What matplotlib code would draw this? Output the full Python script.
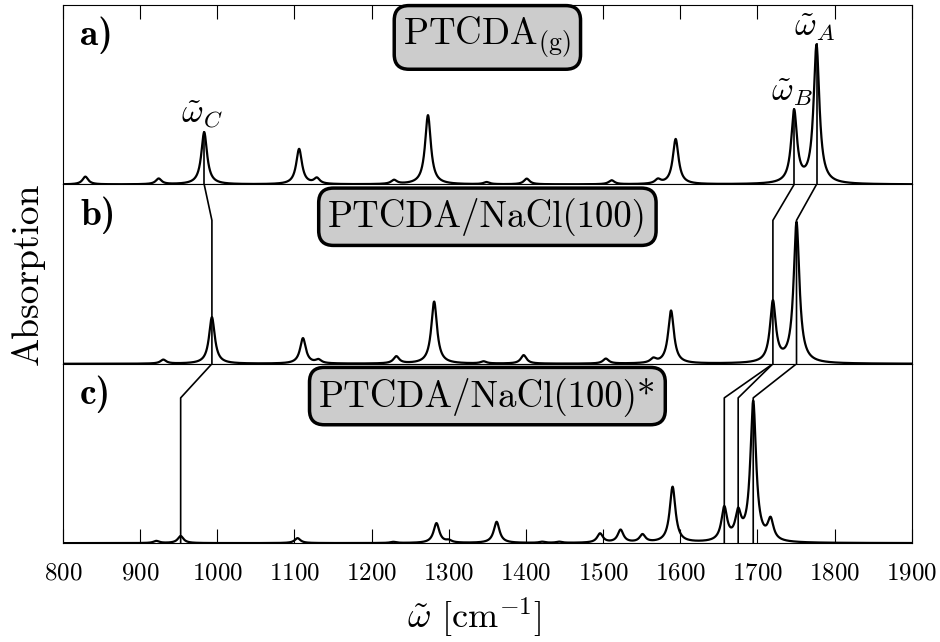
import numpy as np
import matplotlib
matplotlib.use("Agg")
import matplotlib.pyplot as plt
from matplotlib.transforms import blended_transform_factory

plt.rcParams["font.family"] = "serif"
plt.rcParams["font.serif"] = ["cmr10"]
plt.rcParams["mathtext.fontset"] = "cm"
plt.rcParams["axes.formatter.use_mathtext"] = True

# stick spectra: peak positions [cm^-1] and relative intensities
pos_gas = [829, 924, 983, 1106, 1129, 1229, 1273, 1349, 1401, 1511, 1571, 1594, 1747.5, 1776.5]
int_gas = [0.055, 0.04, 0.37, 0.25, 0.04, 0.028, 0.49, 0.015, 0.04, 0.028, 0.03, 0.32, 0.51, 0.98]

pos_nacl = [930, 993, 1111, 1131, 1232, 1281, 1345, 1397, 1503.5, 1565, 1588, 1720, 1750.6]
int_nacl = [0.028, 0.33, 0.18, 0.025, 0.05, 0.44, 0.015, 0.06, 0.035, 0.03, 0.375, 0.43, 0.995]

pos_star = [921, 952.5, 1104, 1228, 1284, 1300, 1362, 1421, 1443, 1496, 1522.6, 1551, 1590,
            1657, 1675, 1694.5, 1717]
int_star = [0.015, 0.05, 0.035, 0.008, 0.14, 0.015, 0.15, 0.008, 0.008, 0.065, 0.09, 0.055, 0.395,
            0.235, 0.185, 0.99, 0.145]

# mode assignments followed from panel to panel (C, B, A)
modes_gas = [983, 1747.5, 1776.5]
modes_nacl = [993, 1720, 1750.6]
modes_star = [[952.5], [1657, 1675], [1694.5]]
mode_names = [r"$\tilde{\omega}_C$", r"$\tilde{\omega}_B$", r"$\tilde{\omega}_A$"]

panel_tags = ["a)", "b)", "c)"]
panel_titles = [r"PTCDA$_{\rm (g)}$", "PTCDA/NaCl(100)", "PTCDA/NaCl(100)*"]

GAMMA = 4.5


def broaden(x, centers, heights, gamma=GAMMA):
    """sum of Lorentzians (HWHM gamma) placed at the stick positions"""
    x = np.asarray(x, dtype=float)
    y = np.zeros_like(x)
    for c, h in zip(centers, heights):
        y += h * gamma ** 2 / ((x - c) ** 2 + gamma ** 2)
    return y


x = np.linspace(800, 1900, 5000)
spectra = [(pos_gas, int_gas), (pos_nacl, int_nacl), (pos_star, int_star)]

fig, axes = plt.subplots(3, 1, sharex=True, figsize=(9.4, 6.42), dpi=100)
fig.subplots_adjust(left=0.067, right=0.970, top=0.992, bottom=0.154, hspace=0)

ymax = 1.27
for ax, (p, h), tag, title in zip(axes, spectra, panel_tags, panel_titles):
    ax.plot(x, broaden(x, p, h), color="k", lw=1.6)
    ax.set_xlim(800, 1900)
    ax.set_ylim(0, ymax)
    ax.set_yticks([])
    for s in ax.spines.values():
        s.set_linewidth(0.8)
    ax.text(0.02, 0.83, tag, transform=ax.transAxes, family="cmb10",
            fontsize=27, ha="left", va="center")
    ax.text(0.5, 0.82, title, transform=ax.transAxes, fontsize=26.5, ha="center", va="center",
            bbox=dict(boxstyle="round,pad=0.25,rounding_size=0.4", fc="#cccccc", ec="k", lw=2.5))

axes[0].tick_params(axis="x", which="both", direction="in", length=10, width=0.8,
                    top=True, bottom=False, labelbottom=False, labeltop=False)
axes[1].tick_params(axis="x", which="both", bottom=False, top=False, labelbottom=False)
axes[2].tick_params(axis="x", which="both", direction="in", length=10, width=0.8,
                    top=False, bottom=True, labelsize=18, pad=14)
axes[2].set_xticks(np.arange(800, 2000, 100))

# peak labels and guide lines in the gas phase spectrum
for xm, name in zip(modes_gas, mode_names):
    top = broaden([xm], pos_gas, int_gas)[0]
    axes[0].plot([xm, xm], [0, top], color="k", lw=1.2)
    axes[0].text(xm - 3, top + 0.01, name, fontsize=24, ha="center", va="bottom")

# guide lines: gas -> NaCl(100)
tr_b = blended_transform_factory(axes[1].transData, axes[1].transAxes)
for xa, xb in zip(modes_gas, modes_nacl):
    axes[1].plot([xa, xb, xb], [1.0, 0.8, 0.0], color="k", lw=1.2, transform=tr_b)

# guide lines: NaCl(100) -> NaCl(100)*
tr_c = blended_transform_factory(axes[2].transData, axes[2].transAxes)
for xb, targets in zip(modes_nacl, modes_star):
    for xc in targets:
        axes[2].plot([xb, xc, xc], [1.0, 0.81, 0.0], color="k", lw=1.2, transform=tr_c)

fig.text(0.030, 0.573, "Absorption", rotation=90, fontsize=27, ha="center", va="center")
fig.text(0.505, 0.037, r"$\tilde{\omega}$ [cm$^{-1}$]", fontsize=26, ha="center", va="center")

fig.savefig("out.png", dpi=100)
